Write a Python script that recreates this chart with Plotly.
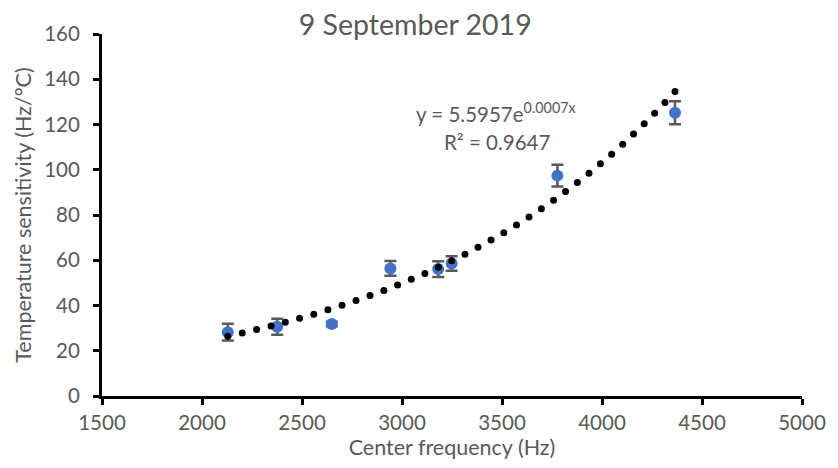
import numpy as np
import plotly.graph_objects as go

# Measured temperature sensitivity at each resonance center frequency
center_freq_hz = [2129, 2376, 2649, 2942, 3181, 3248, 3777, 4365]
sensitivity = [28.2, 30.6, 31.8, 56.4, 56.1, 58.6, 97.4, 125.2]
sensitivity_err = [3.7, 3.5, 1.0, 3.3, 3.5, 3.2, 4.8, 5.1]

x_ticks = [1500, 2000, 2500, 3000, 3500, 4000, 4500, 5000]
y_ticks = [0, 20, 40, 60, 80, 100, 120, 140, 160]

title_text = "9 September 2019"
x_title = "Center frequency (Hz)"
y_title = "Temperature sensitivity (Hz/°C)"
eq_line1 = "y = 5.5957e<sup>0.0007x</sup>"
eq_line2 = "R² = 0.9647"

FONT = "Lato, Calibri, 'Open Sans', sans-serif"
GREY = "#595959"

W, H = 838, 468
plot_l, plot_r, plot_t, plot_b = 102, 29, 34, 72
plot_w, plot_h = W - plot_l - plot_r, H - plot_t - plot_b
x_range = [1500, 5000]
y_range = [0, 160]

# Exponential trendline: least-squares fit of ln(y) against x
k, ln_a = np.polyfit(center_freq_hz, np.log(sensitivity), 1)
x_fit = np.linspace(min(center_freq_hz), max(center_freq_hz), 2000)
y_fit = np.exp(ln_a) * np.exp(k * x_fit)

# the dotted trendline: dots evenly spaced along the curve's on-screen length
px = (x_fit - x_range[0]) / (x_range[1] - x_range[0]) * plot_w
py = (y_fit - y_range[0]) / (y_range[1] - y_range[0]) * plot_h
arc = np.concatenate([[0.0], np.cumsum(np.hypot(np.diff(px), np.diff(py)))])
n_gaps = max(1, round(arc[-1] / 15.0))
x_dots = np.interp(np.linspace(0, arc[-1], n_gaps + 1), arc, x_fit)
y_dots = np.exp(ln_a) * np.exp(k * x_dots)

fig = go.Figure()

fig.add_trace(go.Scatter(
    x=center_freq_hz, y=sensitivity,
    mode="markers",
    marker=dict(color="#4472C4", size=12, line=dict(width=0)),
    error_y=dict(type="data", array=sensitivity_err, visible=True,
                 color=GREY, thickness=2.5, width=6),
    showlegend=False, hoverinfo="x+y",
))

fig.add_trace(go.Scatter(
    x=x_dots, y=y_dots,
    mode="markers",
    marker=dict(color="black", size=7, line=dict(width=0)),
    showlegend=False, hoverinfo="skip",
))

axis_common = dict(
    showline=True, linecolor="black", linewidth=3,
    ticks="outside", ticklen=6, tickwidth=3, tickcolor="black",
    showgrid=False, zeroline=False,
    tickfont=dict(family=FONT, size=20.5, color=GREY),
)

fig.update_layout(
    width=W, height=H,
    margin=dict(l=plot_l, r=plot_r, t=plot_t, b=plot_b),
    paper_bgcolor="white", plot_bgcolor="white",
    font=dict(family=FONT, color=GREY),
    title=dict(text=title_text, x=0.4955, xref="container", xanchor="center",
               y=1 - 25 / H, yref="container", yanchor="middle",
               font=dict(family=FONT, size=28.5, color=GREY)),
    xaxis=dict(range=x_range, tickvals=x_ticks,
               ticktext=[str(v) for v in x_ticks],
               title=dict(text=x_title, font=dict(family=FONT, size=21.5, color=GREY),
                          standoff=6),
               **axis_common),
    yaxis=dict(range=y_range, tickvals=y_ticks,
               ticktext=[str(v) for v in y_ticks],
               ticklabelstandoff=9,
               title=dict(text=y_title, font=dict(family=FONT, size=21.5, color=GREY),
                          standoff=7),
               **axis_common),
)

# equation of the trendline, placed by pixel position inside the plot area
for text, cx, cy in [(eq_line1, 500, 113), (eq_line2, 501, 142)]:
    fig.add_annotation(
        text=text, xref="paper", yref="paper",
        x=(cx - plot_l) / plot_w, y=1 - (cy - plot_t) / plot_h,
        xanchor="center", yanchor="middle", showarrow=False,
        font=dict(family=FONT, size=20.5, color=GREY),
    )

fig.write_html("out.html")
